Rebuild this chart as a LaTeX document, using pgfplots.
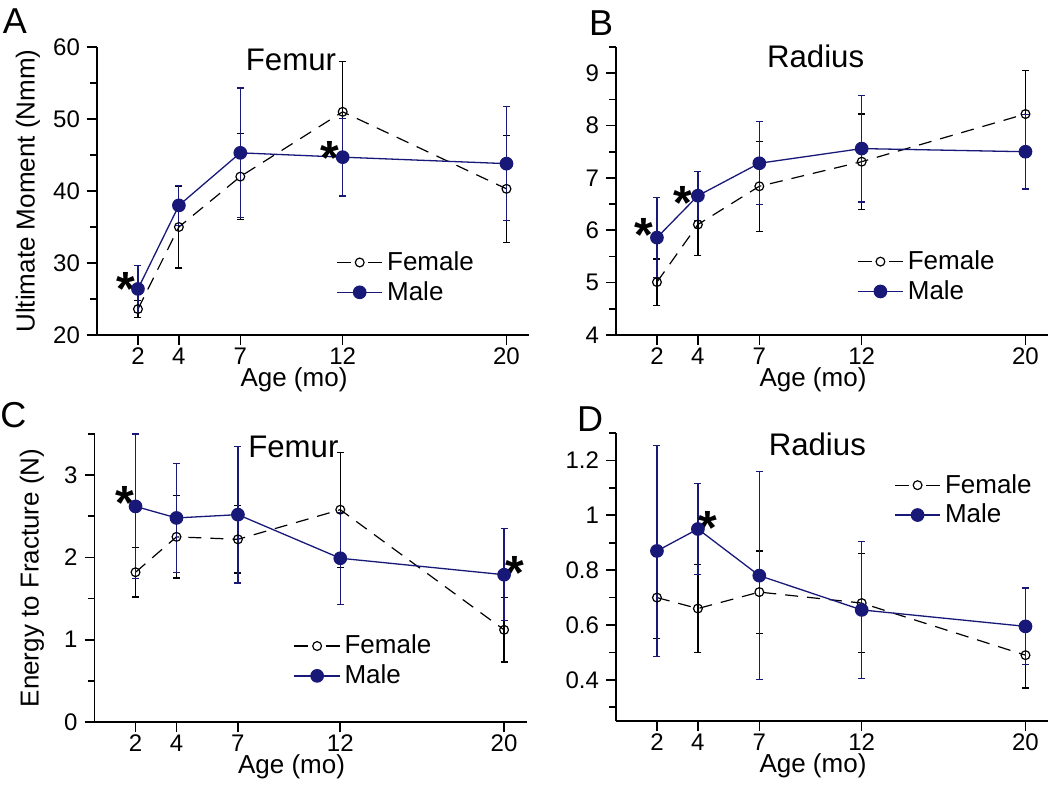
\documentclass[border=0pt]{standalone}
\usepackage{fontspec}
\setmainfont{Liberation Sans}
\usepackage{pgfplots}
\pgfplotsset{compat=1.18}
\definecolor{navy}{RGB}{24,24,120}

\pgfplotsset{
  panel/.style={
    scale only axis, width=216pt, height=144pt,
    xmin=0, xmax=21.1,
    axis x line*=bottom, axis y line*=left,
    xtick={2,4,7,12,20},
    tick align=outside,
    major tick length=5pt, minor tick length=3.5pt,
    every tick/.style={black, line width=0.8pt},
    axis line style={black, line width=0.8pt},
    ticklabel style={font=\fontsize{12}{12}\selectfont},
    xticklabel style={yshift=2pt},
    /pgf/number format/assume math mode=true,
    xlabel={Age (mo)},
    every axis x label/.style={at={(axis description cs:0.456,-0.157)}, anchor=center, font=\fontsize{13}{13}\selectfont},
    every axis y label/.style={at={(axis description cs:-0.16,0.5)}, rotate=90, anchor=center, font=\fontsize{13}{13}\selectfont},
    clip=false,
    legend cell align=left,
    legend style={draw=none, fill=none, font=\fontsize{13}{13}\selectfont, inner sep=0pt, row sep=0pt},
    legend image code/.code={\draw[mark repeat=2,mark phase=2,##1] plot coordinates {(0cm,0cm) (0.4cm,0cm) (0.8cm,0cm)};},
  },
  fem/.style={black, line width=0.6pt, dash pattern=on 6.5pt off 4.5pt,
    mark=o, mark size=2.2pt, mark options={solid, line width=0.6pt},
    legend image code/.code={%
      \draw[##1, dash pattern=on 7pt off 8.76pt] (0cm,0cm) -- (0.8cm,0cm);
      \draw[##1] plot coordinates {(0.4cm,0cm)};},
    error bars/.cd, y dir=both, y explicit, error mark=-,
    error bar style={solid, line width=0.6pt, black},
    error mark options={rotate=90, solid, mark size=1.75pt, line width=0.6pt, black}},
  mal/.style={navy, line width=0.65pt, solid,
    mark=*, mark size=3.1pt, mark options={solid, fill=navy},
    error bars/.cd, y dir=both, y explicit, error mark=-,
    error bar style={solid, line width=0.6pt, navy},
    error mark options={rotate=90, solid, mark size=1.75pt, line width=0.6pt, navy}},
}
\tikzset{
  ttl/.style={font=\fontsize{15.6}{15.6}\selectfont},
  star/.style={font=\fontsize{24}{24}\selectfont\bfseries, yshift=-5pt},
}

\begin{document}
\begin{tikzpicture}
\useasboundingbox (0,0) rectangle (525pt,394pt);

% A: femur, ultimate moment
\begin{axis}[panel, at={(48.5pt,226.5pt)}, anchor=south west,
  ymin=20, ymax=60, ytick={20,30,40,50,60}, minor ytick={25,35,45,55},
  ylabel={Ultimate Moment (Nmm)},
  legend style={at={(0.553,0.2)}, anchor=west}]
\addplot[fem] table[y error=e] {
x y e
2 23.6 1.2
4 35.0 5.7
7 42.0 6.0
12 51.0 7.0
20 40.3 7.4
};
\addlegendentry{Female}
\addplot[mal] table[y error=e] {
x y e
2 26.4 3.3
4 38.0 2.8
7 45.3 9.0
12 44.7 5.4
20 43.8 7.9
};
\addlegendentry{Male}
\node[ttl] at (rel axis cs:0.449,0.955) {Femur};
\node[star] at (axis cs:1.43,27.75) {*};
\node[star] at (axis cs:11.36,46.0) {*};
\end{axis}

% B: radius, ultimate moment
\begin{axis}[panel, at={(308pt,226.5pt)}, anchor=south west,
  ymin=4, ymax=9.5, ytick={4,5,6,7,8,9}, minor ytick={4.5,5.5,6.5,7.5,8.5,9.5},
  legend style={at={(0.557,0.203)}, anchor=west}]
\addplot[fem] table[y error=e] {
x y e
2 5.01 0.44
4 6.11 0.59
7 6.84 0.86
12 7.31 0.91
20 8.22 0.83
};
\addlegendentry{Female}
\addplot[mal] table[y error=e] {
x y e
2 5.86 0.76
4 6.66 0.47
7 7.28 0.79
12 7.56 1.02
20 7.50 0.71
};
\addlegendentry{Male}
\node[ttl] at (rel axis cs:0.462,0.967) {Radius};
\node[star] at (axis cs:1.38,6.11) {*};
\node[star] at (axis cs:3.27,6.71) {*};
\end{axis}

% C: femur, energy to fracture
\begin{axis}[panel, at={(47.3pt,33pt)}, anchor=south west,
  ymin=0, ymax=3.5, ytick={0,1,2,3}, minor ytick={0.5,1.5,2.5,3.5},
  ylabel={Energy to Fracture (N)},
  every axis y label/.style={at={(axis description cs:-0.145,0.5)}, rotate=90, anchor=center, font=\fontsize{13}{13}\selectfont},
  legend style={at={(0.46,0.212)}, anchor=west}]
\addplot[fem] table[y error=e] {
x y e
2 1.82 0.30
4 2.25 0.50
7 2.22 0.41
12 2.58 0.70
20 1.12 0.39
};
\addlegendentry{Female}
\addplot[mal] table[y error=e] {
x y e
2 2.62 0.88
4 2.48 0.66
7 2.52 0.83
12 1.99 0.56
20 1.79 0.56
};
\addlegendentry{Male}
\node[ttl] at (rel axis cs:0.46,0.956) {Femur};
\node[star] at (axis cs:1.48,2.78) {*};
\node[star] at (axis cs:20.52,1.93) {*};
\end{axis}

% D: radius, energy to fracture
\begin{axis}[panel, at={(308pt,33.5pt)}, anchor=south west,
  ymin=0.25, ymax=1.3, ytick={0.4,0.6,0.8,1,1.2}, minor ytick={0.3,0.5,0.7,0.9,1.1,1.3},
  legend style={at={(0.643,0.767)}, anchor=west}]
\addplot[fem] table[y error=e] {
x y e
2 0.70 0.15
4 0.66 0.16
7 0.72 0.15
12 0.68 0.18
20 0.49 0.12
};
\addlegendentry{Female}
\addplot[mal] table[y error=e] {
x y e
2 0.87 0.385
4 0.95 0.165
7 0.78 0.38
12 0.655 0.25
20 0.595 0.14
};
\addlegendentry{Male}
\node[ttl] at (rel axis cs:0.466,0.961) {Radius};
\node[star] at (axis cs:4.48,0.99) {*};
\end{axis}

\node[font=\fontsize{18}{18}\selectfont] at (7.5pt,383.2pt) {A};
\node[font=\fontsize{18}{18}\selectfont] at (300.5pt,382.4pt) {B};
\node[font=\fontsize{18}{18}\selectfont] at (6.7pt,186.2pt) {C};
\node[font=\fontsize{18}{18}\selectfont] at (295pt,184.5pt) {D};
\end{tikzpicture}
\end{document}
